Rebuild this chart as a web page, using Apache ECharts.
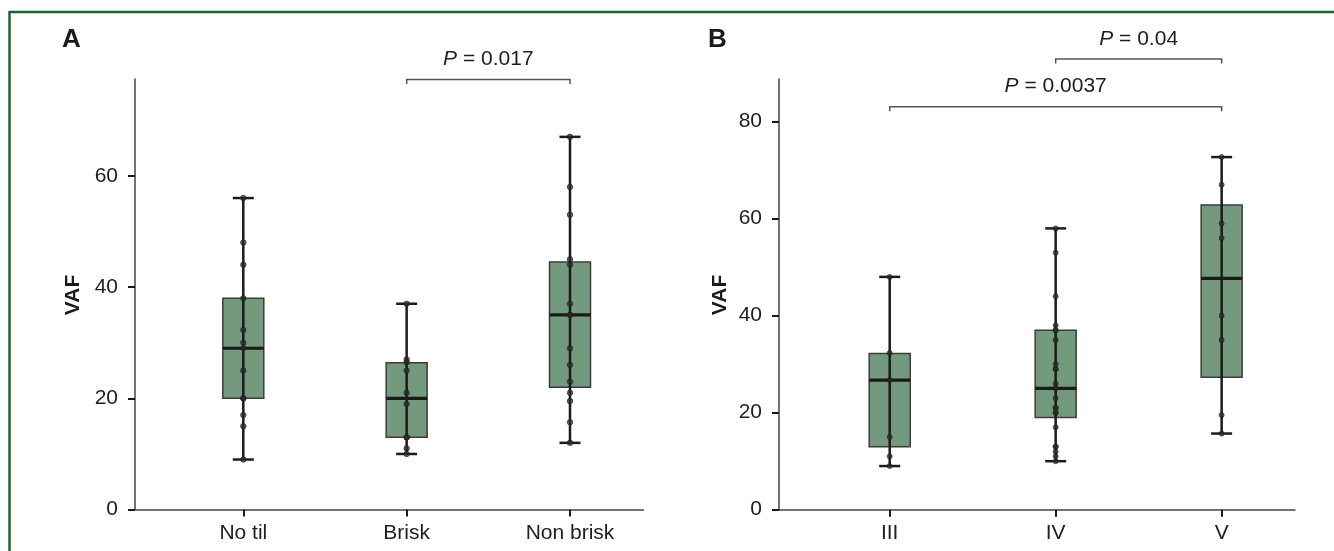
<!DOCTYPE html>
<html>
<head>
<meta charset="utf-8">
<script src="https://cdn.jsdelivr.net/npm/echarts@6/dist/echarts.min.js"></script>
<style>
html,body{margin:0;padding:0;background:#fff;}
#c{width:1334px;height:551px;}
</style>
</head>
<body>
<div id="c"></div>
<script>
// ---------- Panel A data ----------
const catsA = ['No til', 'Brisk', 'Non brisk'];
const pointsNoTil = [56, 48, 44, 38, 32.3, 30, 29, 25, 20, 20, 17, 15, 9];
const pointsBrisk = [37, 27, 26.5, 25, 21, 19, 13, 13, 11, 10];
const pointsNonBrisk = [67, 58, 53, 45, 44, 37, 35, 35, 29, 26, 23, 21, 19.5, 15.7, 12];
// [min, Q1, median, Q3, max]
const boxNoTil = [9, 20, 29, 38, 56];
const boxBrisk = [10, 13, 20, 26.4, 37];
const boxNonBrisk = [12, 22, 35, 44.5, 67];
const yTicksA = [0, 20, 40, 60];
const bracketA = [[2, 3, 77.3]];
const pLabelA = ['0.017'];

// ---------- Panel B data ----------
const catsB = ['III', 'IV', 'V'];
const pointsIII = [48, 32.3, 26.7, 15, 11, 9];
const pointsIV = [58, 53, 44, 38, 37, 37, 35, 30, 29, 29, 26, 25, 23, 21, 21, 20, 20, 17, 13, 13, 12, 11, 10];
const pointsV = [72.7, 67, 59, 56, 40, 35, 19.5, 15.7];
const boxIII = [9, 13, 26.7, 32.2, 48];
const boxIV = [10, 19, 25, 37, 58];
const boxV = [15.7, 27.3, 47.7, 62.8, 72.7];
const yTicksB = [0, 20, 40, 60, 80];
const bracketB = [[1, 3, 83.1], [2, 3, 92.9]];
const pLabelB = ['0.0037', '0.04'];

// ---------- styling ----------
const FONT = '"Liberation Sans", Arial, sans-serif';
const BOX_FILL = '#749a7d';
const BOX_STROKE = '#3c3c3c';
const INK = '#1b1b1b';
const TXT = '#1e1e1e';

function boxData(boxes) {
  return boxes.map((b, i) => [i + 1].concat(b));
}
function pointData(groups) {
  const out = [];
  groups.forEach((g, i) => g.forEach(v => out.push([i + 1, v])));
  return out;
}
function bracketData(br, labels) {
  return br.map((b, i) => [b[0], b[1], b[2], labels[i]]);
}

function renderBox(params, api) {
  const x = api.value(0);
  const pMin = api.coord([x, api.value(1)]);
  const pQ1 = api.coord([x, api.value(2)]);
  const pMed = api.coord([x, api.value(3)]);
  const pQ3 = api.coord([x, api.value(4)]);
  const pMax = api.coord([x, api.value(5)]);
  const cx = pMed[0];
  const bw = 41, cw = 21;
  return {
    type: 'group',
    children: [
      { type: 'rect', shape: { x: cx - bw / 2, y: pQ3[1], width: bw, height: pQ1[1] - pQ3[1] },
        style: { fill: BOX_FILL, stroke: BOX_STROKE, lineWidth: 1.5 } },
      { type: 'line', shape: { x1: cx, y1: pMax[1], x2: cx, y2: pMin[1] },
        style: { stroke: INK, lineWidth: 2.5 } },
      { type: 'line', shape: { x1: cx - bw / 2, y1: pMed[1], x2: cx + bw / 2, y2: pMed[1] },
        style: { stroke: INK, lineWidth: 3.2 } },
      { type: 'line', shape: { x1: cx - cw / 2, y1: pMax[1], x2: cx + cw / 2, y2: pMax[1] },
        style: { stroke: INK, lineWidth: 2.5 } },
      { type: 'line', shape: { x1: cx - cw / 2, y1: pMin[1], x2: cx + cw / 2, y2: pMin[1] },
        style: { stroke: INK, lineWidth: 2.5 } }
    ]
  };
}

function renderBracket(params, api) {
  const a = api.coord([api.value(0), api.value(2)]);
  const b = api.coord([api.value(1), api.value(2)]);
  const label = api.value(3);
  const y = a[1];
  return {
    type: 'group',
    children: [
      { type: 'polyline', shape: { points: [[a[0], y + 4.5], [a[0], y], [b[0], y], [b[0], y + 4.5]] },
        style: { stroke: '#555', lineWidth: 1.5, fill: null } },
      { type: 'text', x: (a[0] + b[0]) / 2, y: y - 20,
        style: {
          text: '{i|P} = ' + label,
          align: 'center', verticalAlign: 'middle',
          font: '21px ' + FONT, fill: TXT,
          rich: { i: { fontStyle: 'italic', fontSize: 21, fontFamily: FONT, fill: TXT } }
        } }
    ]
  };
}

function xAxisCfg(gi, min, max, cats) {
  return {
    type: 'value', gridIndex: gi, min: min, max: max,
    splitLine: { show: false },
    axisLine: { show: true, onZero: false, lineStyle: { color: '#444', width: 1.5 } },
    axisTick: { show: true, customValues: [1, 2, 3], length: 7, lineStyle: { color: INK, width: 2 } },
    axisLabel: { show: true, customValues: [1, 2, 3], margin: 13, color: TXT, fontSize: 21, fontFamily: FONT,
      formatter: v => cats[Math.round(v) - 1] || '' }
  };
}
function yAxisCfg(gi, max, ticks) {
  return {
    type: 'value', gridIndex: gi, min: 0, max: max,
    splitLine: { show: false },
    axisLine: { show: true, onZero: false, lineStyle: { color: '#444', width: 1.5 } },
    axisTick: { show: true, customValues: ticks, length: 7, lineStyle: { color: INK, width: 2 } },
    axisLabel: { show: true, customValues: ticks, margin: 17, color: TXT, fontSize: 21, fontFamily: FONT }
  };
}

const chart = echarts.init(document.getElementById('c'), null, { renderer: 'canvas' });
chart.setOption({
  backgroundColor: '#fff',
  animation: false,
  grid: [
    { left: 135, top: 79, width: 508.5, height: 430.6 },
    { left: 779, top: 79, width: 516, height: 430.7 }
  ],
  xAxis: [xAxisCfg(0, 0.337, 3.45, catsA), xAxisCfg(1, 0.333, 3.442, catsB)],
  yAxis: [yAxisCfg(0, 77.4, yTicksA), yAxisCfg(1, 88.8, yTicksB)],
  graphic: [
    { type: 'line', shape: { x1: 9.5, y1: 12, x2: 1334, y2: 12 }, style: { stroke: '#1d6334', lineWidth: 2.5 } },
    { type: 'line', shape: { x1: 9.5, y1: 11, x2: 9.5, y2: 551 }, style: { stroke: '#1d6334', lineWidth: 2.5 } },
    { type: 'text', x: 62, y: 40, style: { text: 'A', font: 'bold 26px ' + FONT, fill: '#1a1a1a', verticalAlign: 'middle' } },
    { type: 'text', x: 708, y: 40, style: { text: 'B', font: 'bold 26px ' + FONT, fill: '#1a1a1a', verticalAlign: 'middle' } },
    { type: 'text', x: 73, y: 295, rotation: Math.PI / 2,
      style: { text: 'VAF', font: 'bold 21px ' + FONT, fill: '#1a1a1a', align: 'center', verticalAlign: 'middle' } },
    { type: 'text', x: 720, y: 295, rotation: Math.PI / 2,
      style: { text: 'VAF', font: 'bold 21px ' + FONT, fill: '#1a1a1a', align: 'center', verticalAlign: 'middle' } }
  ],
  series: [
    { type: 'custom', xAxisIndex: 0, yAxisIndex: 0, clip: false, z: 2,
      renderItem: renderBox, data: boxData([boxNoTil, boxBrisk, boxNonBrisk]) },
    { type: 'scatter', xAxisIndex: 0, yAxisIndex: 0, z: 3, symbolSize: 5.5,
      itemStyle: { color: 'rgba(45,45,45,0.9)', borderColor: '#1a1a1a', borderWidth: 0.8 },
      data: pointData([pointsNoTil, pointsBrisk, pointsNonBrisk]) },
    { type: 'custom', xAxisIndex: 0, yAxisIndex: 0, clip: false, z: 4,
      renderItem: renderBracket, data: bracketData(bracketA, pLabelA) },

    { type: 'custom', xAxisIndex: 1, yAxisIndex: 1, clip: false, z: 2,
      renderItem: renderBox, data: boxData([boxIII, boxIV, boxV]) },
    { type: 'scatter', xAxisIndex: 1, yAxisIndex: 1, z: 3, symbolSize: 5,
      itemStyle: { color: 'rgba(45,45,45,0.9)', borderColor: '#1a1a1a', borderWidth: 0.8 },
      data: pointData([pointsIII, pointsIV, pointsV]) },
    { type: 'custom', xAxisIndex: 1, yAxisIndex: 1, clip: false, z: 4,
      renderItem: renderBracket, data: bracketData(bracketB, pLabelB) }
  ]
});
</script>
</body>
</html>
